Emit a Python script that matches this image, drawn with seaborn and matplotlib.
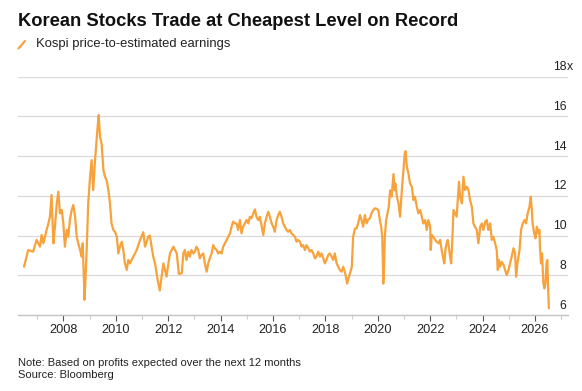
import matplotlib
matplotlib.use("Agg")
import matplotlib.pyplot as plt
import seaborn as sns
import pandas as pd
from matplotlib.lines import Line2D
from matplotlib.ticker import MultipleLocator

# Kospi forward P/E (decimal years)
years_a = [2006.50, 2006.66, 2006.85, 2006.98, 2007.11, 2007.17, 2007.24, 2007.36, 2007.43, 2007.49,
           2007.55, 2007.59, 2007.62, 2007.68, 2007.75, 2007.81, 2007.87, 2007.94, 2008.00, 2008.06,
           2008.13, 2008.19, 2008.25, 2008.32, 2008.38, 2008.45, 2008.51, 2008.57, 2008.64, 2008.70,
           2008.74, 2008.79, 2008.81, 2008.85, 2008.89, 2008.95, 2009.02, 2009.08, 2009.14, 2009.21,
           2009.27, 2009.31, 2009.35, 2009.40, 2009.46, 2009.53, 2009.59, 2009.65, 2009.72, 2009.78,
           2009.84, 2009.91, 2009.97, 2010.04, 2010.10, 2010.16, 2010.23, 2010.29, 2010.35, 2010.42,
           2010.48, 2010.54, 2010.67, 2010.80, 2010.93, 2011.05, 2011.12, 2011.24, 2011.30, 2011.43,
           2011.50, 2011.60, 2011.68, 2011.75, 2011.82, 2011.88, 2011.94, 2012.01, 2012.07, 2012.20,
           2012.33, 2012.41, 2012.52]
pe_a = [8.43, 9.27, 9.19, 9.78, 9.44, 10.03, 9.61, 10.28, 10.61, 10.95,
        12.04, 10.61, 9.61, 10.45, 11.62, 12.21, 11.12, 11.29, 10.61, 9.44,
        10.28, 9.94, 10.78, 11.29, 11.54, 10.95, 9.94, 9.61, 9.27, 8.94,
        9.61, 7.59, 6.76, 7.93, 9.27, 11.62, 12.96, 13.80, 12.29, 13.80,
        14.81, 15.48, 16.07, 14.98, 14.64, 13.30, 12.96, 12.80, 12.29, 11.62,
        10.61, 10.28, 10.19, 9.94, 9.10, 9.44, 9.69, 9.27, 8.60, 8.27,
        8.77, 8.60, 8.94, 9.27, 9.78, 10.17, 9.44, 9.94, 10.00, 8.94,
        8.60, 7.76, 7.23, 7.93, 8.60, 8.27, 7.93, 8.60, 9.10, 9.44,
        9.10, 8.07, 8.10]

years_b = [2012.58, 2012.64, 2012.70, 2012.77, 2012.83, 2012.89, 2012.96, 2013.02, 2013.08, 2013.15,
           2013.21, 2013.27, 2013.34, 2013.40, 2013.47, 2013.53, 2013.59, 2013.66, 2013.72, 2013.78,
           2013.85, 2013.91, 2013.97, 2014.04, 2014.10, 2014.23, 2014.29, 2014.36, 2014.42, 2014.48,
           2014.55, 2014.61, 2014.67, 2014.74, 2014.80, 2014.86, 2014.93, 2014.99, 2015.06, 2015.12,
           2015.18, 2015.25, 2015.31, 2015.37, 2015.44, 2015.50, 2015.56, 2015.63, 2015.69, 2015.76,
           2015.82, 2015.88, 2015.95, 2016.01, 2016.07, 2016.14, 2016.20, 2016.26, 2016.33, 2016.39,
           2016.45, 2016.52, 2016.58, 2016.65, 2016.71, 2016.77, 2016.84, 2016.90, 2016.96, 2017.03,
           2017.09, 2017.15, 2017.22, 2017.28, 2017.35, 2017.41, 2017.47, 2017.54, 2017.60, 2017.66,
           2017.73, 2017.79, 2017.85, 2017.92, 2017.98, 2018.04, 2018.11, 2018.17, 2018.24, 2018.30,
           2018.36, 2018.43, 2018.49, 2018.55, 2018.62, 2018.68, 2018.74, 2018.79, 2018.83, 2018.90,
           2018.96, 2019.01, 2019.06, 2019.13, 2019.19, 2019.25, 2019.32, 2019.38, 2019.44, 2019.51,
           2019.57, 2019.63, 2019.70, 2019.76, 2019.83, 2019.89, 2019.95, 2020.02, 2020.08]
pe_b = [9.10, 9.27, 8.77, 9.19, 8.94, 9.27, 9.10, 9.19, 9.44, 9.27,
        8.85, 9.02, 9.10, 8.60, 8.18, 8.60, 8.85, 9.10, 9.52, 9.36,
        9.27, 9.10, 9.19, 9.10, 9.44, 9.78, 9.94, 10.11, 10.45, 10.70,
        10.61, 10.61, 10.28, 10.78, 10.11, 10.45, 10.61, 10.78, 10.61, 10.95,
        10.87, 11.12, 11.32, 10.95, 10.78, 10.95, 10.53, 10.03, 10.61, 10.95,
        11.20, 10.95, 10.61, 10.45, 10.19, 10.78, 11.03, 11.20, 10.95, 10.61,
        10.45, 10.28, 10.19, 10.28, 10.11, 10.03, 9.94, 9.69, 9.78, 9.69,
        9.44, 9.52, 9.27, 9.52, 9.36, 9.19, 9.27, 9.10, 8.85, 8.94,
        9.19, 8.94, 9.10, 8.85, 8.60, 8.77, 9.02, 9.10, 8.94, 8.77,
        9.10, 8.60, 8.43, 8.27, 8.18, 8.43, 8.18, 7.90, 7.58, 7.93,
        8.18, 8.43, 9.94, 10.35, 10.36, 10.61, 11.03, 10.78, 10.45, 11.03,
        10.61, 10.80, 10.87, 11.12, 11.29, 11.37, 11.35, 11.29, 10.78]

years_c = [2020.13, 2020.17, 2020.19, 2020.21, 2020.24, 2020.27, 2020.32, 2020.37, 2020.42, 2020.47,
           2020.53, 2020.60, 2020.64, 2020.67, 2020.73, 2020.79, 2020.85, 2020.92, 2020.98, 2021.03,
           2021.06, 2021.11, 2021.17, 2021.23, 2021.30, 2021.36, 2021.42, 2021.49, 2021.55, 2021.62,
           2021.68, 2021.74, 2021.81, 2021.87, 2021.93, 2022.00, 2022.02, 2022.06, 2022.12, 2022.19,
           2022.25, 2022.32, 2022.38, 2022.44, 2022.51, 2022.54, 2022.58, 2022.63, 2022.67, 2022.71,
           2022.76, 2022.80, 2022.84, 2022.89, 2022.95, 2023.01, 2023.08, 2023.10, 2023.14, 2023.21,
           2023.27, 2023.33, 2023.40, 2023.46, 2023.52, 2023.59, 2023.65, 2023.71, 2023.78, 2023.84,
           2023.91, 2023.97, 2024.03, 2024.10, 2024.16, 2024.22, 2024.29, 2024.35, 2024.41, 2024.48,
           2024.54, 2024.58, 2024.62, 2024.67, 2024.73, 2024.80, 2024.86, 2024.92, 2024.99, 2025.05,
           2025.11, 2025.18, 2025.24, 2025.28, 2025.33, 2025.41, 2025.47, 2025.53, 2025.60, 2025.66,
           2025.72, 2025.79, 2025.84, 2025.88, 2025.91, 2025.97, 2026.02, 2026.07, 2026.13, 2026.17,
           2026.19, 2026.23, 2026.27, 2026.32, 2026.36, 2026.40, 2026.44, 2026.47, 2026.50, 2026.53]
pe_c = [10.45, 9.94, 8.94, 7.58, 8.43, 9.94, 10.78, 11.12, 11.45, 12.28,
        11.96, 13.10, 12.29, 12.63, 11.96, 11.62, 10.95, 12.29, 13.30, 14.14,
        14.25, 13.47, 13.13, 12.63, 12.46, 11.79, 11.96, 11.45, 11.12, 11.29,
        10.95, 10.61, 10.78, 10.28, 10.78, 10.45, 9.27, 10.03, 9.94, 9.78,
        9.69, 9.61, 9.78, 9.27, 8.77, 8.60, 9.27, 9.61, 9.78, 9.44,
        8.94, 8.60, 9.61, 11.29, 11.12, 10.95, 12.29, 12.71, 11.96, 11.62,
        12.96, 12.29, 12.46, 12.29, 11.79, 11.45, 10.61, 10.45, 10.28, 9.61,
        10.45, 10.61, 10.28, 10.70, 10.78, 10.28, 10.61, 9.78, 9.94, 9.61,
        9.27, 8.27, 8.77, 8.43, 8.68, 8.52, 8.27, 8.01, 8.27, 8.60,
        8.94, 9.36, 9.10, 7.93, 8.60, 9.27, 10.28, 10.61, 10.78, 10.61,
        11.12, 11.45, 11.96, 11.29, 10.61, 10.11, 9.86, 10.45, 10.11, 10.28,
        9.44, 8.60, 9.10, 7.59, 7.34, 7.59, 8.60, 8.77, 7.43, 6.34]

y_ticks = [6, 8, 10, 12, 14, 16, 18]
x_ticks = list(range(2008, 2027, 2))

title = "Korean Stocks Trade at Cheapest Level on Record"
subtitle = "Kospi price-to-estimated earnings"
note = "Note: Based on profits expected over the next 12 months"
source = "Source: Bloomberg"

df = pd.DataFrame({"year": years_a + years_b + years_c,
                   "pe": pe_a + pe_b + pe_c})

sns.set_theme(style="white")
plt.rcParams['font.family'] = ['Liberation Sans', 'DejaVu Sans']

orange = "#F7A23B"
W, H = 582, 391
fig = plt.figure(figsize=(W / 100, H / 100), dpi=100)
ax = fig.add_axes([18 / W, 1 - 315 / H, (568 - 18) / W, (315 - 76.7) / H])

sns.lineplot(data=df, x="year", y="pe", ax=ax, color=orange, linewidth=1.6,
             estimator=None, sort=False)

ax.set_xlim(2006.27, 2027.26)
ax.set_ylim(6, 18)
ax.set_xlabel("")
ax.set_ylabel("")

# gridlines and right-side labels sitting above them
ax.set_yticks(y_ticks)
ax.yaxis.grid(True, color="#d9d9d9", linewidth=0.9)
ax.set_axisbelow(True)
ax.tick_params(axis="y", left=False, labelleft=False)
for v in y_ticks:
    ax.annotate(str(v), xy=(1, v), xycoords=ax.get_yaxis_transform(),
                xytext=(-1, 2.5), textcoords="offset points",
                ha="right", va="bottom", fontsize=8.8, color="#222222")
ax.annotate("x", xy=(1, y_ticks[-1]), xycoords=ax.get_yaxis_transform(),
            xytext=(-1, 2.5), textcoords="offset points",
            ha="left", va="bottom", fontsize=8.8, color="#222222")

ax.set_xticks(x_ticks)
ax.set_xticklabels([str(t) for t in x_ticks])
ax.xaxis.set_minor_locator(MultipleLocator(1))
ax.tick_params(axis="x", which="major", bottom=True, length=4, width=0.8,
               color="#555555", pad=2.5, labelsize=9.2, labelcolor="#222222")
ax.tick_params(axis="x", which="minor", bottom=True, length=3, width=0.8,
               color="#cccccc")

for s in ["top", "right", "left"]:
    ax.spines[s].set_visible(False)
ax.spines["bottom"].set_color("#c4c4c4")
ax.spines["bottom"].set_linewidth(1)

# header
fig.text(18 / W, 1 - 25.7 / H, title, fontsize=13.2, fontweight="bold",
         color="#111111", va="baseline")
fig.add_artist(Line2D([18.5 / W, 25 / W], [1 - 48.5 / H, 1 - 41 / H],
                      transform=fig.transFigure, color=orange, linewidth=1.6))
fig.text(36 / W, 1 - 46.7 / H, subtitle, fontsize=9.4, color="#222222", va="baseline")

# footer
fig.text(18 / W, 1 - 366.5 / H, note, fontsize=8, color="#222222", va="baseline")
fig.text(18 / W, 1 - 378.5 / H, source, fontsize=8, color="#222222", va="baseline")

fig.savefig("out.png", dpi=100)
